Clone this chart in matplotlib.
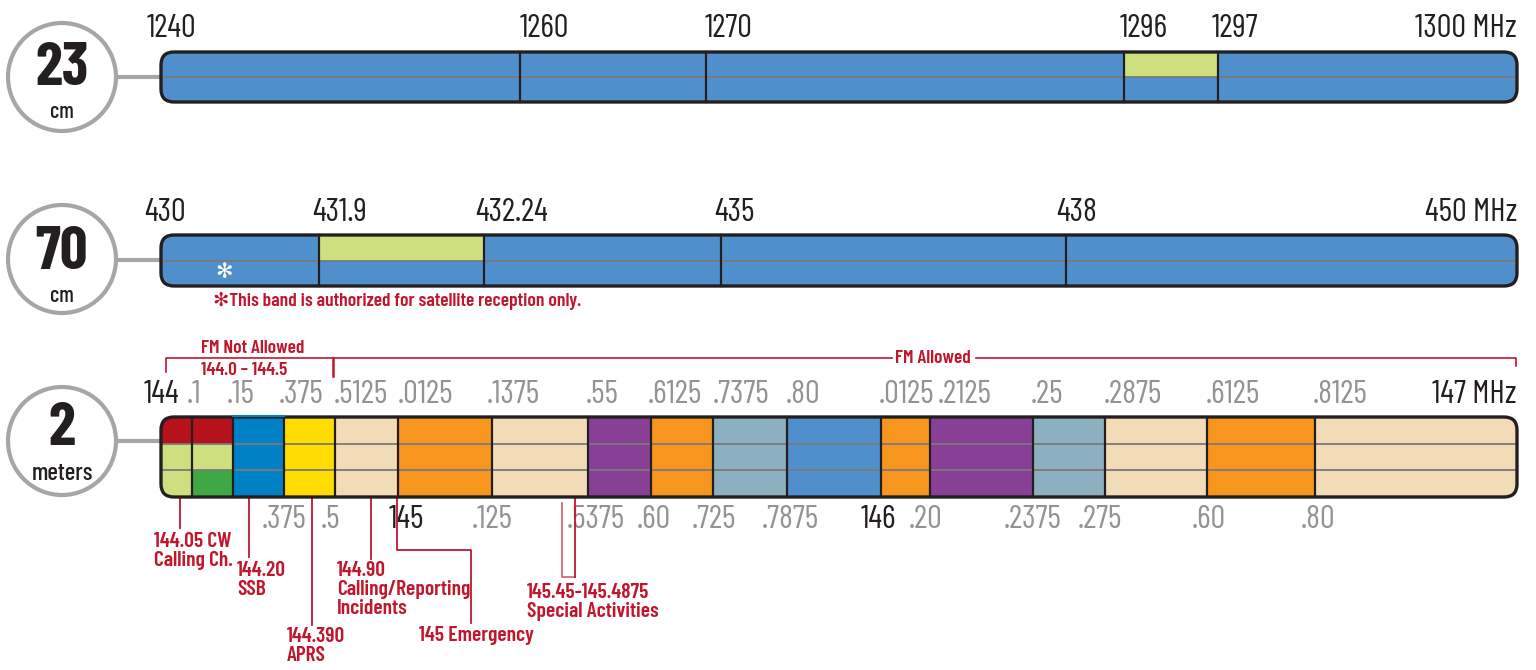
import matplotlib
matplotlib.use('Agg')
import matplotlib.pyplot as plt
from matplotlib.patches import FancyBboxPatch, Rectangle, Circle

# ---- band plan data (positions are schematic chart units) ----
# 23 cm
b23_edges = [161, 520, 706, 1124, 1218, 1517]
b23_labels = ['1240', '1260', '1270', '1296', '1297']
b23_label_pos = [147, 520, 705, 1120, 1212]
b23_end = '1300 MHz'
b23_rows = [['fm', 'fm'], ['fm', 'fm'], ['fm', 'fm'], ['sat', 'fm'], ['fm', 'fm']]

# 70 cm
b70_edges = [161, 319, 484, 721, 1066, 1517]
b70_labels = ['430', '431.9', '432.24', '435', '438']
b70_label_pos = [144, 312, 475, 714, 1056]
b70_end = '450 MHz'
b70_rows = [['fm', 'fm'], ['sat', 'fm'], ['fm', 'fm'], ['fm', 'fm'], ['fm', 'fm']]
b70_note = '\u273bThis band is authorized for satellite reception only.'

# 2 m
b2_edges = [161, 192, 233, 284, 335, 398, 492, 588, 651, 713, 787, 881, 930,
            1033, 1105, 1207, 1315, 1517]
b2_top_labels = ['144', '.1', '.15', '.375', '.5125', '.0125', '.1375', '.55',
                 '.6125', '.7375', '.80', '.0125', '.2125', '.25', '.2875',
                 '.6125', '.8125']
b2_top_pos = [144, 187, 227, 279, 334, 398, 487, 586, 648, 713, 786, 879, 938,
              1031, 1104, 1206, 1313]
b2_end = '147 MHz'
b2_rows = [['cw', 'sat', 'sat'], ['cw', 'sat', 'weak'], ['ssb'] * 3, ['aprs'] * 3,
           ['misc'] * 3, ['rpt'] * 3, ['misc'] * 3, ['dig'] * 3, ['rpt'] * 3,
           ['simp'] * 3, ['fm'] * 3, ['rpt'] * 3, ['dig'] * 3, ['simp'] * 3,
           ['misc'] * 3, ['rpt'] * 3, ['misc'] * 3]
b2_bottom_labels = ['.375', '.5', '145', '.125', '.5375', '.60', '.725', '.7875',
                    '146', '.20', '.2375', '.275', '.60', '.80']
b2_bottom_pos = [284, 331, 406, 492, 596, 654, 714, 790, 878, 926, 1033, 1100, 1209, 1318]
b2_major = ['144', '145', '146']

# call-outs below the 2 m band
callout_text = ['144.05 CW\nCalling Ch.', '144.20\nSSB', '144.390\nAPRS',
                '144.90\nCalling/Reporting\nIncidents', '145 Emergency',
                '145.45-145.4875\nSpecial Activities']
callout_freq_pos = [180, 249, 312, 371, 397, 568]
callout_text_pos = [(154, 533), (237, 562), (287, 628), (337, 562), (419, 627), (527, 584)]

use_colors = {'fm': '#4f8fcc', 'sat': '#cddf7e', 'cw': '#b5121b', 'weak': '#3fa843',
              'ssb': '#0081c6', 'aprs': '#ffdd00', 'misc': '#f2dbb7', 'rpt': '#f7961f',
              'dig': '#874096', 'simp': '#8cb0c0'}

RED = '#c1172d'
GRAY = '#939393'
DARK = '#231f20'
RING = '#a6a6a6'

plt.rcParams['font.family'] = ['Barlow Condensed', 'Roboto Condensed', 'DejaVu Sans']

fig = plt.figure(figsize=(15.36, 6.70), dpi=100)
ax = fig.add_axes([0, 0, 1, 1])
ax.set_xlim(0, 1536)
ax.set_ylim(670, 0)
ax.axis('off')


def draw_band(edges, rows, y0, y1):
    x0, x1 = edges[0], edges[-1]
    outline = FancyBboxPatch((x0, y0), x1 - x0, y1 - y0,
                             boxstyle='round,pad=0,rounding_size=13',
                             fc='none', ec=DARK, lw=2.4, zorder=6)
    ax.add_patch(outline)
    n = len(rows[0])
    h = (y1 - y0) / n
    for i, seg in enumerate(rows):
        for r, key in enumerate(seg):
            rect = Rectangle((edges[i], y0 + r * h), edges[i + 1] - edges[i], h,
                             fc=use_colors[key], ec='none', zorder=2)
            ax.add_patch(rect)
            rect.set_clip_path(outline)
    for r in range(1, n):
        ln, = ax.plot([x0, x1], [y0 + r * h] * 2, color='#7a7a7a', lw=1.3, zorder=3)
        ln.set_clip_path(outline)
    for x in edges[1:-1]:
        ax.plot([x, x], [y0, y1], color=DARK, lw=1.6, zorder=4)


def badge(cy, num, unit, num_base, unit_base, conn_y, unit_size=16):
    ax.plot([110, 161], [conn_y, conn_y], color=RING, lw=3, zorder=1)
    ax.add_patch(Circle((62, cy), 54, fc='white', ec=RING, lw=3, zorder=5))
    ax.text(62, num_base, num, ha='center', va='baseline', fontsize=44,
            fontweight='bold', color=DARK, zorder=6)
    ax.text(62, unit_base, unit, ha='center', va='baseline', fontsize=unit_size,
            fontweight='medium', color=DARK, zorder=6)


def freq_labels(xs, labels, y, ha='left'):
    for x, s in zip(xs, labels):
        major = s in b2_major or not s.startswith('.')
        ax.text(x, y, s, ha=ha, va='baseline', fontsize=23.5, fontweight='normal',
                color=DARK if major else GRAY, zorder=1)


# 23 cm
draw_band(b23_edges, b23_rows, 52, 102)
badge(77, '23', 'cm', 85, 118, 77)
freq_labels(b23_label_pos, b23_labels, 37)
freq_labels([1517], [b23_end], 37, ha='right')

# 70 cm
draw_band(b70_edges, b70_rows, 235, 286)
badge(259, '70', 'cm', 269, 302, 260)
freq_labels(b70_label_pos, b70_labels, 221)
freq_labels([1517], [b70_end], 221, ha='right')
ax.text(224, 278, '\u273b', ha='center', va='baseline', fontsize=15, color='white',
        fontweight='bold', zorder=7, family=['DejaVu Sans'])
ax.text(213, 306, b70_note, ha='left', va='baseline', fontsize=14, color=RED,
        fontweight='semibold', family=['Barlow Condensed', 'DejaVu Sans'])

# 2 m
draw_band(b2_edges, b2_rows, 417, 497)
ax.plot([233, 284], [415.5, 415.5], color=use_colors['ssb'], lw=1.5, zorder=7)
badge(441, '2', 'meters', 445, 480, 441, unit_size=18)
freq_labels(b2_top_pos, b2_top_labels, 403)
freq_labels([1517], [b2_end], 403, ha='right')
freq_labels(b2_bottom_pos, b2_bottom_labels, 528, ha='center')

# FM allowed / not allowed brackets
ax.plot([166, 166, 333], [372, 358, 358], color=RED, lw=1.2)
ax.plot([333, 333], [358, 376], color=RED, lw=1.8)
ax.plot([333, 892], [358, 358], color=RED, lw=1.2)
ax.plot([976, 1516, 1516], [358, 358, 366], color=RED, lw=1.2)
ax.text(201, 353, 'FM Not Allowed', ha='left', va='baseline', fontsize=14,
        color=RED, fontweight='semibold')
ax.text(201, 375, '144.0 \u2013 144.5', ha='left', va='baseline', fontsize=14,
        color=RED, fontweight='semibold')
ax.text(933, 363, 'FM Allowed', ha='center', va='baseline', fontsize=14,
        color=RED, fontweight='semibold')

# call-outs
lw_c = 1.3
cx = callout_freq_pos
ax.plot([cx[0], cx[0]], [497, 528], color=RED, lw=lw_c)
ax.plot([cx[1], cx[1]], [497, 557], color=RED, lw=lw_c)
ax.plot([cx[2], cx[2]], [497, 625], color=RED, lw=lw_c)
ax.plot([cx[3], cx[3]], [497, 559], color=RED, lw=lw_c)
ax.plot([cx[4], cx[4], 471, 471], [497, 550, 550, 623], color=RED, lw=lw_c)
ax.plot([cx[5] - 6, cx[5] - 6, cx[5] + 7], [503, 577, 577], color='#d86a78', lw=lw_c)
ax.plot([cx[5] + 7, cx[5] + 7], [577, 497], color=RED, lw=lw_c)
for (x, y), s in zip(callout_text_pos, callout_text):
    ax.text(x, y - 1, s, ha='left', va='top', fontsize=15.5, color=RED,
            fontweight='semibold', linespacing=1.0)

fig.savefig('out.png', dpi=100)
